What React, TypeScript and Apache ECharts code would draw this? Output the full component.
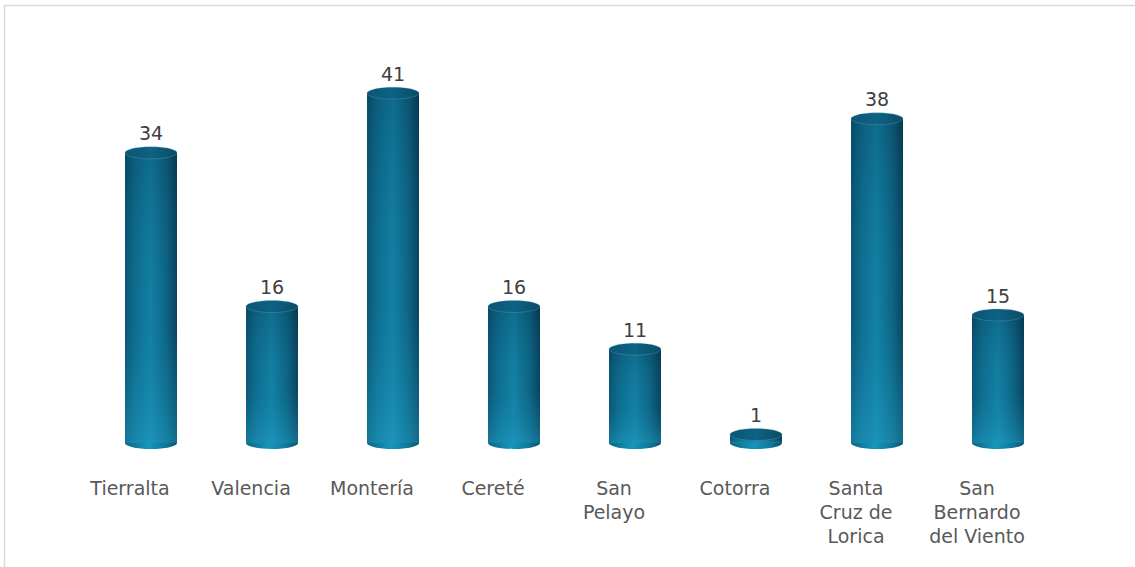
import React, { useEffect, useRef } from "react";
import * as echarts from "echarts";

const categories = [
  "Tierralta",
  "Valencia",
  "Montería",
  "Cereté",
  "San\nPelayo",
  "Cotorra",
  "Santa\nCruz de\nLorica",
  "San\nBernardo\ndel Viento",
];
const values = [34, 16, 41, 16, 11, 1, 38, 15];

export default function App() {
  const ref = useRef<HTMLDivElement>(null);
  useEffect(() => {
    if (!ref.current) return;
    const chart = echarts.init(ref.current, null, { renderer: "svg" });
    const G = echarts.graphic.LinearGradient;
    const bodyGrad = () =>
      new G(0, 0, 1, 0, [
        { offset: 0, color: "#0a5473" },
        { offset: 0.2, color: "#0e6d8f" },
        { offset: 0.5, color: "#1380a3" },
        { offset: 0.8, color: "#0d6282" },
        { offset: 1, color: "#08405a" },
      ]);
    const bottomGrad = () =>
      new G(0, 0, 1, 0, [
        { offset: 0, color: "#0c6686" },
        { offset: 0.45, color: "#1596bd" },
        { offset: 0.8, color: "#0f7699" },
        { offset: 1, color: "#0a4f6a" },
      ]);
    const shadeGrad = () =>
      new G(0, 0, 0, 1, [
        { offset: 0, color: "rgba(0,25,45,0.2)" },
        { offset: 0.6, color: "rgba(20,140,180,0.05)" },
        { offset: 1, color: "rgba(40,180,220,0.38)" },
      ]);
    const capGrad = () =>
      new G(0, 0, 1, 0, [
        { offset: 0, color: "#0b5575" },
        { offset: 0.5, color: "#0e6283" },
        { offset: 1, color: "#0a4c66" },
      ]);
    chart.setOption({
      animation: false,
      grid: { left: 90.5, right: 76.5, top: 59, bottom: 124, containLabel: false },
      xAxis: {
        type: "category",
        data: categories,
        axisLine: { show: false },
        axisTick: { show: false },
        axisLabel: {
          interval: 0,
          margin: 33,
          color: "#595959",
          fontSize: 19,
          lineHeight: 24,
          fontFamily: "DejaVu Sans",
          padding: [0, 42, 0, 0],
        },
      },
      yAxis: {
        type: "value",
        min: 0,
        max: 45,
        show: false,
        splitLine: { show: false },
      },
      graphic: [
        {
          type: "rect",
          shape: { x: 4.5, y: 5.5, width: 1300, height: 800 },
          style: { fill: "none", stroke: "#d9d9d9", lineWidth: 1.5 },
          silent: true,
        },
      ],
      series: [
        {
          type: "custom",
          data: values.map((v, i) => [i, v]),
          encode: { x: 0, y: 1 },
          renderItem: (params: any, api: any) => {
            const top = api.coord([api.value(0), api.value(1)]);
            const base = api.coord([api.value(0), 0]);
            const cx = top[0];
            const rx = 26;
            const ry = 6;
            return {
              type: "group",
              children: [
                {
                  type: "ellipse",
                  shape: { cx, cy: base[1], rx, ry },
                  style: { fill: bottomGrad() },
                },
                {
                  type: "rect",
                  shape: { x: cx - rx, y: top[1], width: 2 * rx, height: base[1] - top[1] },
                  style: { fill: bodyGrad() },
                },
                {
                  type: "rect",
                  shape: { x: cx - rx, y: top[1], width: 2 * rx, height: base[1] - top[1] },
                  style: { fill: shadeGrad() },
                },
                {
                  type: "ellipse",
                  shape: { cx, cy: top[1], rx, ry },
                  style: { fill: capGrad(), stroke: "rgba(120,190,215,0.35)", lineWidth: 0.8 },
                },
              ],
            };
          },
          z: 2,
        },
        {
          type: "bar",
          data: values,
          barWidth: 52,
          itemStyle: { color: "rgba(0,0,0,0)" },
          label: {
            show: true,
            position: "top",
            distance: 10,
            color: "#404040",
            fontSize: 19,
            fontFamily: "DejaVu Sans",
          },
          z: 3,
        },
      ],
    });
    return () => chart.dispose();
  }, []);
  return (
    <div
      ref={ref}
      style={{ position: "fixed", left: 0, top: 0, width: 1135, height: 567, background: "#fff" }}
    />
  );
}
